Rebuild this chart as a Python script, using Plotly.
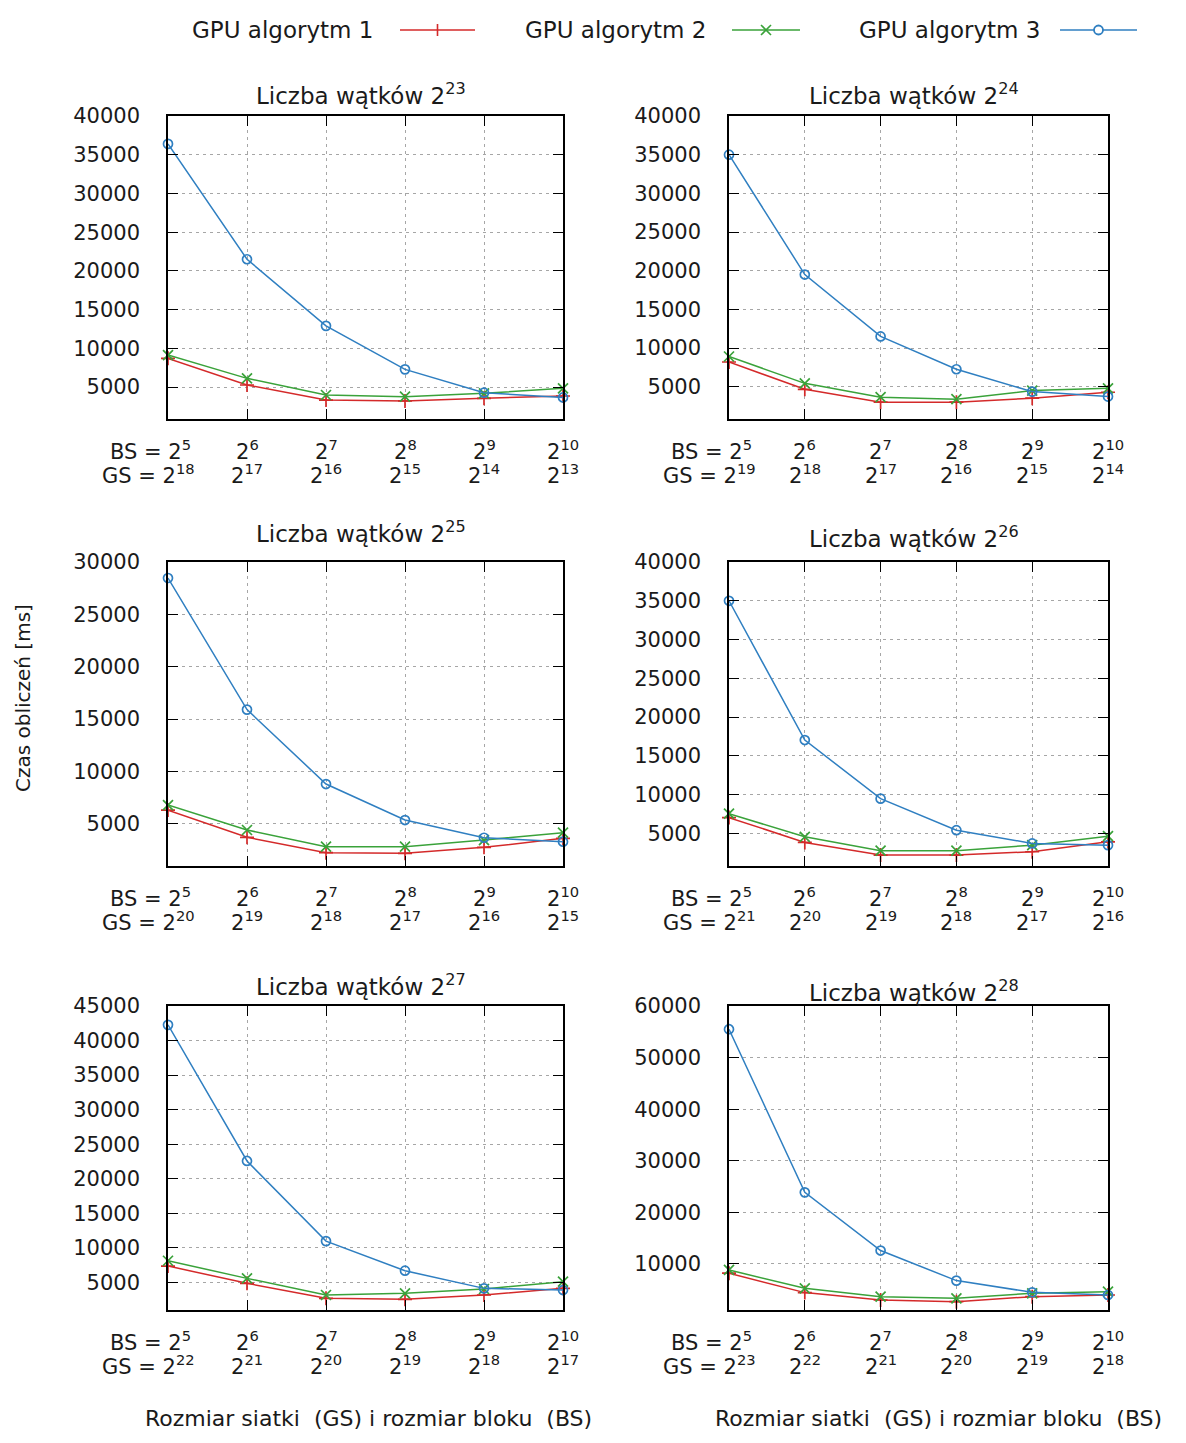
import plotly.graph_objects as go

W, H = 1186, 1443

# ---------------- data ----------------
bs_labels = ["2<sup>5</sup>", "2<sup>6</sup>", "2<sup>7</sup>", "2<sup>8</sup>", "2<sup>9</sup>", "2<sup>10</sup>"]
thread_labels = ["2<sup>23</sup>", "2<sup>24</sup>", "2<sup>25</sup>", "2<sup>26</sup>", "2<sup>27</sup>", "2<sup>28</sup>"]
gs_labels = [
    ["2<sup>18</sup>", "2<sup>17</sup>", "2<sup>16</sup>", "2<sup>15</sup>", "2<sup>14</sup>", "2<sup>13</sup>"],
    ["2<sup>19</sup>", "2<sup>18</sup>", "2<sup>17</sup>", "2<sup>16</sup>", "2<sup>15</sup>", "2<sup>14</sup>"],
    ["2<sup>20</sup>", "2<sup>19</sup>", "2<sup>18</sup>", "2<sup>17</sup>", "2<sup>16</sup>", "2<sup>15</sup>"],
    ["2<sup>21</sup>", "2<sup>20</sup>", "2<sup>19</sup>", "2<sup>18</sup>", "2<sup>17</sup>", "2<sup>16</sup>"],
    ["2<sup>22</sup>", "2<sup>21</sup>", "2<sup>20</sup>", "2<sup>19</sup>", "2<sup>18</sup>", "2<sup>17</sup>"],
    ["2<sup>23</sup>", "2<sup>22</sup>", "2<sup>21</sup>", "2<sup>20</sup>", "2<sup>19</sup>", "2<sup>18</sup>"],
]
series_names = ["GPU algorytm 1", "GPU algorytm 2", "GPU algorytm 3"]

gpu1 = [
    [8700, 5260, 3320, 3200, 3540, 3840],
    [8190, 4660, 3000, 3000, 3510, 4280],
    [6300, 3700, 2230, 2170, 2740, 3600],
    [7050, 3850, 2220, 2220, 2650, 3930],
    [7360, 4860, 2690, 2540, 3170, 4130],
    [8190, 4430, 3000, 2680, 3650, 3970],
]
gpu2 = [
    [9130, 6120, 3970, 3750, 4180, 4830],
    [8900, 5430, 3640, 3380, 4490, 4790],
    [6780, 4400, 2810, 2810, 3440, 4140],
    [7560, 4570, 2780, 2780, 3500, 4660],
    [8130, 5580, 3170, 3410, 4040, 5100],
    [8830, 5270, 3650, 3320, 4300, 4620],
]
gpu3 = [
    [36400, 21500, 12900, 7280, 4270, 3650],
    [35000, 19500, 11500, 7250, 4360, 3720],
    [28470, 15900, 8790, 5350, 3660, 3280],
    [35000, 17050, 9490, 5430, 3720, 3500],
    [42270, 22570, 10970, 6690, 4130, 3890],
    [55500, 23870, 12590, 6760, 4490, 3970],
]
y_ranges = [[870, 40000], [820, 40000], [960, 30000], [810, 40000], [1000, 45000], [1060, 60000]]
y_dtick = [5000, 5000, 5000, 5000, 5000, 10000]

# ---------------- style / layout ----------------
FONT = "DejaVu Sans"
TXT = "#1a1a1a"
colors = ["#d42a2a", "#3aa23a", "#2f7fc1"]
symbols = ["cross-thin-open", "x-thin-open", "circle-open"]

col_px = [(168, 563), (729, 1108)]
row_px = [(116, 419), (562, 866), (1006, 1310)]
title_cy = [94, 94, 532, 537, 985, 991]

def px_x(x):
    return x / W

def px_y(y):
    return 1 - y / H

fig = go.Figure()
annotations = []
shapes = []

xcats = list(range(len(bs_labels)))

for p in range(6):
    r, c = divmod(p, 2)
    xs = "" if p == 0 else str(p + 1)
    xref, yref = "x" + xs, "y" + xs
    for s, data in enumerate([gpu1, gpu2, gpu3]):
        fig.add_trace(go.Scatter(
            x=xcats, y=data[p], mode="lines+markers", name=series_names[s],
            xaxis=xref, yaxis=yref, showlegend=False, cliponaxis=False,
            line=dict(color=colors[s], width=1.5),
            marker=dict(symbol=symbols[s], size=10 if s < 2 else 9, color=colors[s],
                        line=dict(color=colors[s], width=1.7)),
        ))
    x0, x1 = col_px[c]
    y0, y1 = row_px[r]
    axis_common = dict(showline=True, linecolor="black", linewidth=1.5, mirror="ticks",
                       ticks="inside", ticklen=10, tickwidth=1.2, tickcolor="black",
                       showgrid=True, gridcolor="#a6a6a6", gridwidth=1, griddash="3px,4px",
                       zeroline=False, automargin=False)
    fig.layout["xaxis" + xs] = dict(
        domain=[px_x(x0), px_x(x1)], anchor=yref, range=[0, 5],
        tickvals=xcats, showticklabels=False, **axis_common)
    fig.layout["yaxis" + xs] = dict(
        domain=[px_y(y1), px_y(y0)], anchor=xref, range=y_ranges[p],
        tick0=0, dtick=y_dtick[p], tickformat="d", ticklabelstandoff=22,
        tickfont=dict(family=FONT, size=21, color=TXT), **axis_common)

    # panel title
    annotations.append(dict(
        text="Liczba wątków " + thread_labels[p], xref="paper", yref="paper",
        x=px_x((x0 + x1) / 2 - 5), y=px_y(title_cy[p]), xanchor="center", yanchor="middle",
        showarrow=False, font=dict(family=FONT, size=23, color=TXT)))

    # two-row category labels
    for j in xcats:
        t1 = bs_labels[j]
        t2 = gs_labels[p][j]
        if j == 0:
            annotations.append(dict(text="BS = " + t1, xref=xref, yref="paper", x=j,
                                    y=px_y(y1), xanchor="left", yanchor="middle", xshift=-60, yshift=-31,
                                    showarrow=False, font=dict(family=FONT, size=21, color=TXT)))
            annotations.append(dict(text="GS = " + t2, xref=xref, yref="paper", x=j,
                                    y=px_y(y1), xanchor="left", yanchor="middle", xshift=-68, yshift=-55,
                                    showarrow=False, font=dict(family=FONT, size=21, color=TXT)))
        else:
            annotations.append(dict(text=t1, xref=xref, yref="paper", x=j,
                                    y=px_y(y1), xanchor="center", yanchor="middle", yshift=-31,
                                    showarrow=False, font=dict(family=FONT, size=21, color=TXT)))
            annotations.append(dict(text=t2, xref=xref, yref="paper", x=j,
                                    y=px_y(y1), xanchor="center", yanchor="middle", yshift=-55,
                                    showarrow=False, font=dict(family=FONT, size=21, color=TXT)))

# axis titles
annotations.append(dict(text="Czas obliczeń [ms]", xref="paper", yref="paper",
                        x=px_x(23), y=px_y(698), textangle=-90, showarrow=False,
                        xanchor="center", yanchor="middle", font=dict(family=FONT, size=20, color=TXT)))
for cx in (368, 938):
    annotations.append(dict(text="Rozmiar siatki  (GS) i rozmiar bloku  (BS)", xref="paper", yref="paper",
                            x=px_x(cx), y=px_y(1418), showarrow=False, xanchor="center", yanchor="middle",
                            font=dict(family=FONT, size=22, color=TXT)))

# gnuplot-style key: text followed by sample on the right
key_text_right = [375, 708, 1042]
key_line = [(400, 475), (732, 800), (1060, 1137)]
ky = 30
for s in range(3):
    annotations.append(dict(text=series_names[s], xref="paper", yref="paper",
                            x=px_x(key_text_right[s]), y=px_y(ky), xanchor="right", yanchor="middle",
                            showarrow=False, font=dict(family=FONT, size=23, color=TXT)))
    la, lb = key_line[s]
    shapes.append(dict(type="line", xref="paper", yref="paper", x0=px_x(la), x1=px_x(lb),
                       y0=px_y(ky), y1=px_y(ky), line=dict(color=colors[s], width=1.5)))
    mx = (la + lb) / 2
    if s == 0:
        shapes.append(dict(type="line", xref="paper", yref="paper", x0=px_x(mx), x1=px_x(mx),
                           y0=px_y(ky - 6), y1=px_y(ky + 6), line=dict(color=colors[s], width=1.6)))
    elif s == 1:
        for d in (-1, 1):
            shapes.append(dict(type="line", xref="paper", yref="paper", x0=px_x(mx - 5), x1=px_x(mx + 5),
                               y0=px_y(ky - 5 * d), y1=px_y(ky + 5 * d), line=dict(color=colors[s], width=1.6)))
    else:
        shapes.append(dict(type="circle", xref="paper", yref="paper", x0=px_x(mx - 4.5), x1=px_x(mx + 4.5),
                           y0=px_y(ky - 4.5), y1=px_y(ky + 4.5), line=dict(color=colors[s], width=1.8),
                           fillcolor="white"))

fig.update_layout(
    width=W, height=H, margin=dict(l=0, r=0, t=0, b=0, pad=0, autoexpand=False),
    paper_bgcolor="white", plot_bgcolor="white",
    showlegend=False, annotations=annotations, shapes=shapes,
    font=dict(family=FONT, color=TXT),
)

fig.write_html("out.html")
